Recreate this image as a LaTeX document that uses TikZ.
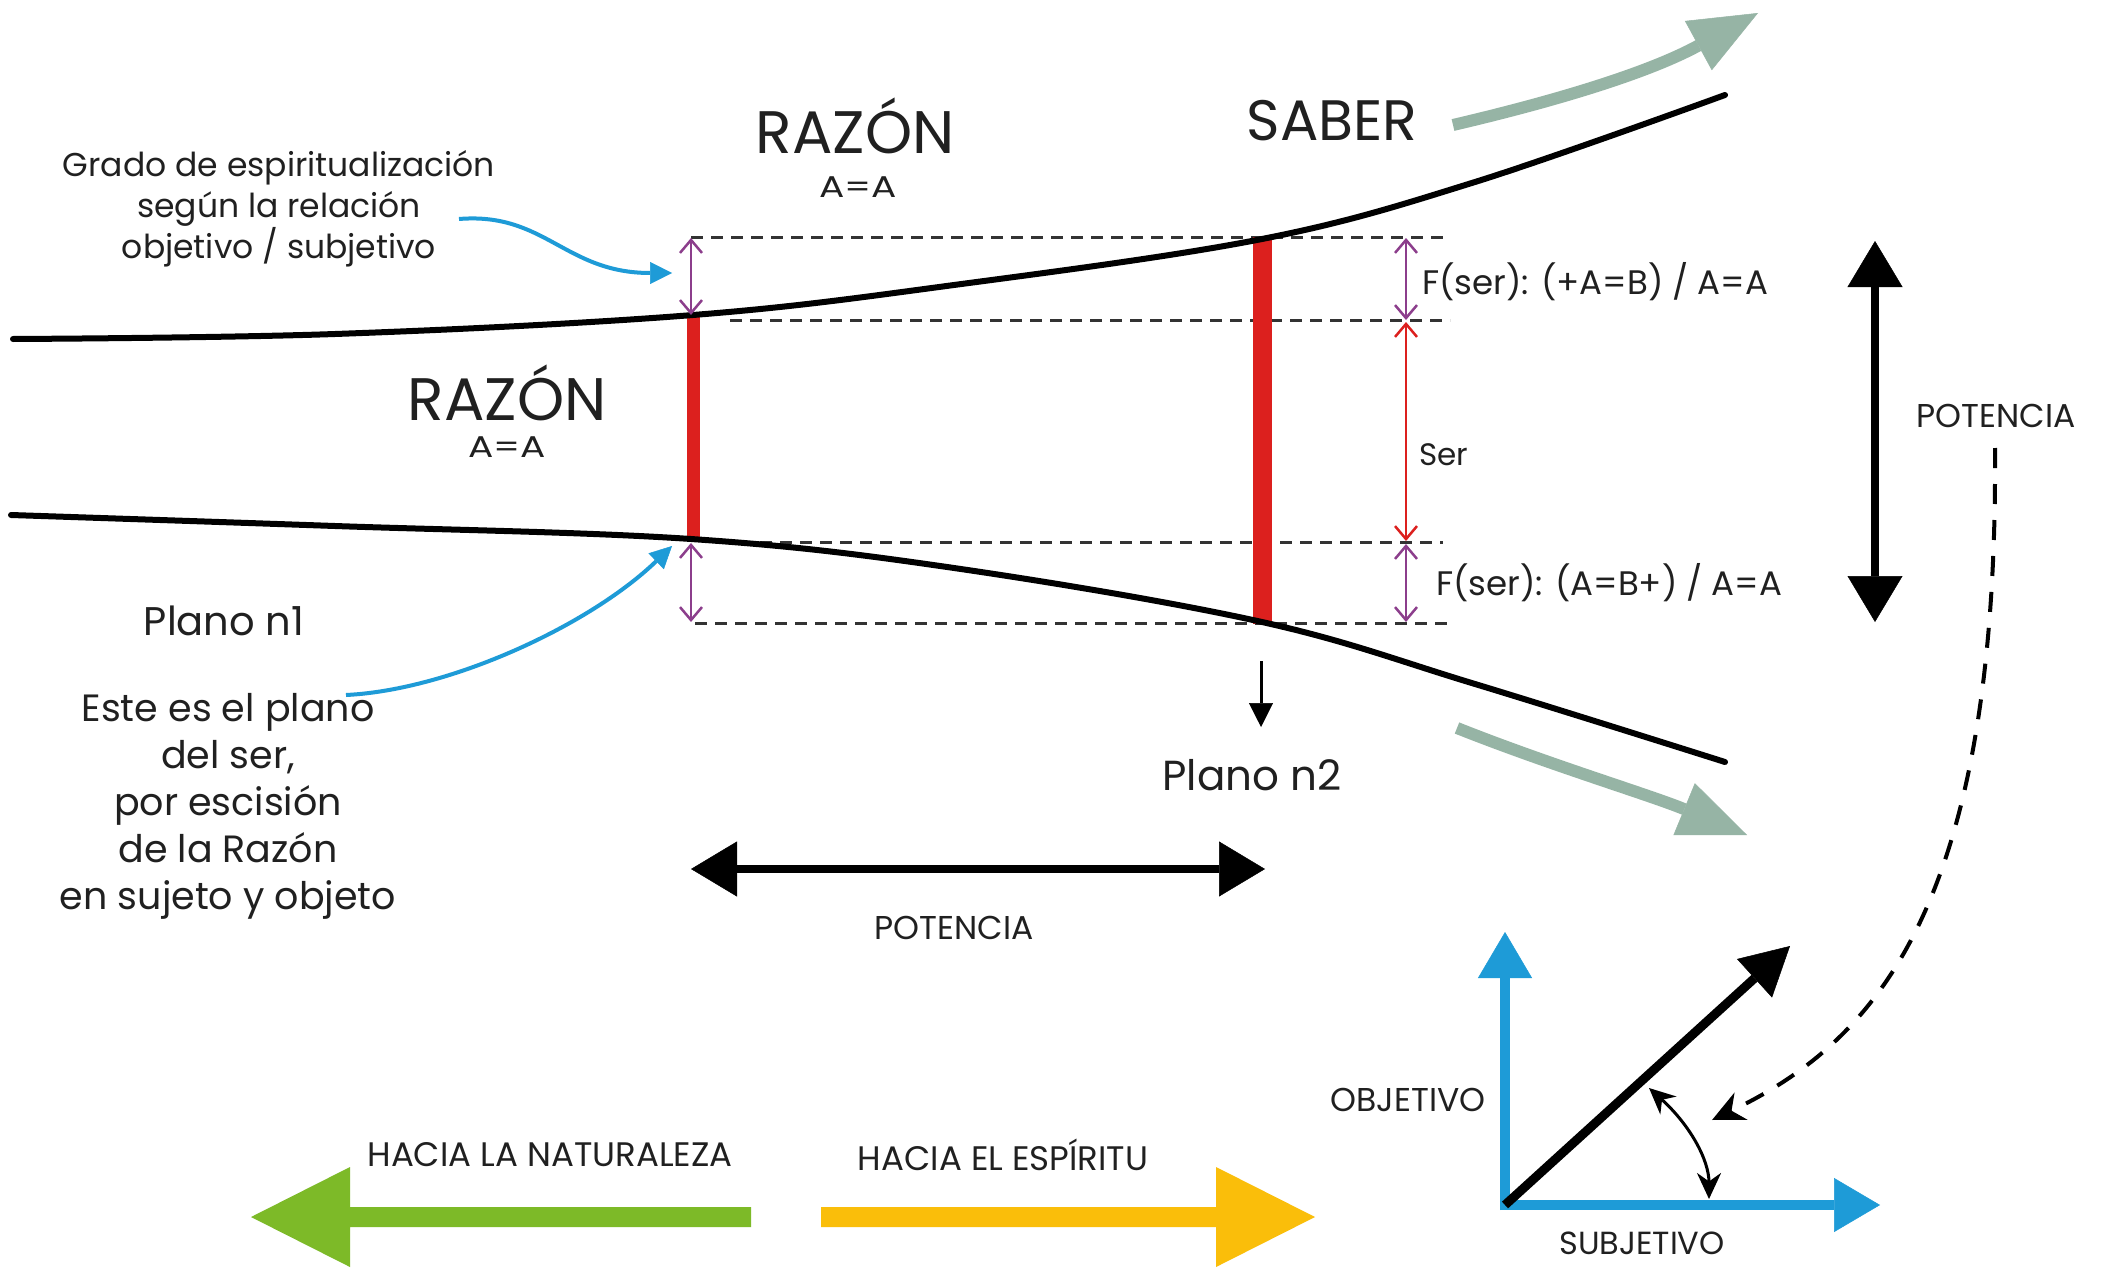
\documentclass[tikz,border=0pt]{standalone}
\usepackage{fontspec}
\setmainfont{Poppins}
\usetikzlibrary{arrows.meta}
\definecolor{ink}{RGB}{32,32,32}
\definecolor{purp}{RGB}{140,62,140}
\definecolor{redbar}{RGB}{220,32,30}
\definecolor{bluel}{RGB}{30,155,215}
\definecolor{greyg}{RGB}{150,180,165}
\definecolor{greenA}{RGB}{125,186,40}
\definecolor{yellowA}{RGB}{250,190,10}
\begin{document}
\begin{tikzpicture}[x=1pt,y=-1pt,
  txt/.style={text=ink, inner sep=0pt},
  bigtxt/.style={txt, font=\fontsize{60}{66}\selectfont},
  eqtxt/.style={txt, font=\fontsize{30}{36}\selectfont, xscale=1.25},
  midtxt/.style={txt, font=\fontsize{38}{47}\selectfont, align=center},
  smalltxt/.style={txt, font=\fontsize{33}{41}\selectfont, align=center},
  captxt/.style={txt, font=\fontsize{33}{38}\selectfont},
  curveline/.style={line width=6pt, black, line cap=round},
  dashline/.style={line width=3pt, black!80, dash pattern=on 12pt off 8pt},
  dimline/.style={line width=2.5pt, purp, {Straight Barb[length=13pt,width=22pt]}-{Straight Barb[length=13pt,width=22pt]}},
  serline/.style={line width=2.5pt, redbar, {Straight Barb[length=13pt,width=22pt]}-{Straight Barb[length=13pt,width=22pt]}},
  bluecall/.style={line width=4pt, bluel, -{Triangle[length=22pt,width=22pt,line width=0.5pt]}},
  bigdouble/.style={line width=8pt, black, {Triangle[length=46pt,width=55pt,line width=0.5pt]}-{Triangle[length=46pt,width=55pt,line width=0.5pt]}},
  greyarrow/.style={line width=12pt, greyg, -{Triangle[length=68pt,width=56pt,line width=0.5pt]}},
  blueaxis/.style={line width=10pt, bluel, -{Triangle[length=46pt,width=54pt,line width=0.5pt]}},
]
\useasboundingbox (0,0) rectangle (2103,1268);
\fill[white] (0,0) rectangle (2103,1268);

% key points
\coordinate (tl) at (13,339);
\coordinate (tA) at (693,315);
\coordinate (tB) at (1262,237);
\coordinate (tr) at (1725,95);
\coordinate (bl) at (11,515);
\coordinate (bA) at (693,540);
\coordinate (bB) at (1262,624);
\coordinate (br) at (1725,762);

% dashed guide lines
\draw[dashline] (691,237) -- (1443,237);
\draw[dashline] (730,320) -- (1450,320);
\draw[dashline] (740,542) -- (1443,542);
\draw[dashline] (695,623) -- (1450,623);

% red bars
\draw[line width=13pt, redbar] (tA) -- (bA);
\draw[line width=19pt, redbar] (tB) -- (bB);

% main curves
\draw[curveline] plot[smooth, tension=0.6] coordinates {(tl) (335,334) (tA) (954,285) (1262,239) (1475,182) (tr)};
\draw[curveline] plot[smooth, tension=0.6] coordinates {(bl) (335,526) (691,539) (954,568) (1262,622) (1475,684) (br)};

% dimension arrows
\coordinate (pl1) at (691,238); \coordinate (pl2) at (691,315);
\coordinate (pl3) at (691,543); \coordinate (pl4) at (691,622);
\draw[dimline] (pl1) -- (pl2);
\draw[dimline] (pl3) -- (pl4);
\coordinate (pr1) at (1406,238); \coordinate (pr2) at (1406,320);
\coordinate (pr3) at (1406,322); \coordinate (pr4) at (1406,541);
\coordinate (pr5) at (1406,544); \coordinate (pr6) at (1406,622);
\draw[dimline] (pr1) -- (pr2);
\draw[serline] (pr3) -- (pr4);
\draw[dimline] (pr5) -- (pr6);

% texts
\node[bigtxt, anchor=base] (razonA) at (855,154) {RAZÓN};
\node[eqtxt, anchor=base] (eqA) at (858,197) {A=A};
\node[bigtxt, anchor=base, font=\fontsize{57}{62}\selectfont] (saber) at (1332,141) {SABER};
\node[bigtxt, anchor=base] (razonB) at (507,420) {RAZÓN};
\node[eqtxt, anchor=base] (eqB) at (507,457) {A=A};
\node[smalltxt] (grado) at (279,209) {Grado de espiritualización\\según la relación\\objetivo / subjetivo};
\node[midtxt, font=\fontsize{40}{47}\selectfont] (plano1) at (224,621) {Plano n1};
\node[midtxt] (este) at (228,806) {Este es el plano\\del ser,\\por escisión\\de la Razón\\en sujeto y objeto};
\node[midtxt, font=\fontsize{42}{47}\selectfont] (plano2) at (1252,775) {Plano n2};
\node[smalltxt, anchor=west, font=\fontsize{34}{41}\selectfont] (fsup) at (1422,282) {F(ser): (+A=B) / A=A};
\node[smalltxt, anchor=west, font=\fontsize{31}{41}\selectfont] (ser) at (1419,455) {Ser};
\node[smalltxt, anchor=west, font=\fontsize{34}{41}\selectfont] (finf) at (1436,583) {F(ser): (A=B+) / A=A};
\node[captxt] (potR) at (1996,416) {POTENCIA};
\node[captxt] (potB) at (954,928) {POTENCIA};
\node[captxt] (obj) at (1408,1100) {OBJETIVO};
\node[captxt, font=\fontsize{32}{38}\selectfont] (subj) at (1642,1243) {SUBJETIVO};
\node[captxt, font=\fontsize{34}{38}\selectfont] (nat) at (550,1155) {HACIA LA NATURALEZA};
\node[captxt, font=\fontsize{34}{38}\selectfont] (esp) at (1003,1155) {HACIA EL ESPÍRITU};

% blue callouts
\coordinate (c1s) at (459,219); \coordinate (c1e) at (672,273);
\draw[bluecall] (c1s) .. controls (545,212) and (565,273) .. (c1e);
\coordinate (c2s) at (346,695); \coordinate (c2e) at (672,546);
\draw[bluecall] (c2s) .. controls (450,690) and (590,625) .. (c2e);

% small down arrow to Plano n2
\coordinate (dn1) at (1261,661); \coordinate (dn2) at (1261,727);
\draw[line width=3pt, black, -{Triangle[length=24pt,width=24pt,line width=0.5pt]}] (dn1) -- (dn2);

% big black double arrows
\coordinate (hL) at (691,869); \coordinate (hR) at (1265,869);
\draw[bigdouble] (hL) -- (hR);
\coordinate (vT) at (1875,241); \coordinate (vB) at (1875,622);
\draw[bigdouble] (vT) -- (vB);

% grey arrows
\coordinate (g1s) at (1453,125); \coordinate (g1e) at (1758,13);
\draw[greyarrow] (g1s) .. controls (1560,100) and (1650,72) .. (g1e);
\coordinate (g2s) at (1457,728); \coordinate (g2e) at (1747,835);
\draw[greyarrow] (g2s) .. controls (1550,765) and (1650,795) .. (g2e);

% axes
\coordinate (O) at (1505,1205);
\coordinate (yT) at (1505,932); \coordinate (xT) at (1880,1205);
\draw[blueaxis] (1505,1210) -- (yT);
\draw[blueaxis] (1500,1205) -- (xT);
\coordinate (dT) at (1790,946);
\draw[line width=9pt, black, -{Triangle[length=48pt,width=52pt,line width=0.5pt]}] (O) -- (dT);

% angle arc
\coordinate (a1) at (1649,1088); \coordinate (a2) at (1709,1199);
\draw[line width=3pt, black, {Stealth[length=26pt,width=24pt]}-{Stealth[length=26pt,width=24pt]}] (a1) .. controls (1690,1125) and (1709,1160) .. (a2);

% dashed curved arrow
\coordinate (ds) at (1995,448); \coordinate (de) at (1712,1120);
\draw[line width=4pt, black, dash pattern=on 20pt off 16pt, -{Stealth[length=32pt,width=30pt]}] (ds) .. controls (1998,900) and (1880,1040) .. (de);

% bottom big arrows
\fill[greenA] (751,1207) -- (350,1207) -- (350,1167) -- (251,1217) -- (350,1267) -- (350,1227) -- (751,1227) -- cycle;
\fill[yellowA] (821,1207) -- (1216,1207) -- (1216,1167) -- (1315,1217) -- (1216,1267) -- (1216,1227) -- (821,1227) -- cycle;
\end{tikzpicture}
\end{document}
